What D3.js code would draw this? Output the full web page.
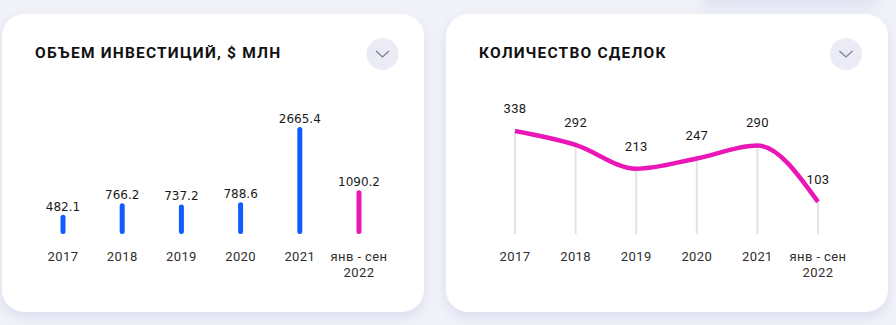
<!DOCTYPE html>
<html>
<head>
<meta charset="utf-8">
<script src="https://cdn.jsdelivr.net/npm/d3@7/dist/d3.min.js"></script>
<style>
  html, body { margin: 0; padding: 0; background: #f2f3f8; }
  svg { display: block; }
</style>
</head>
<body>
<svg id="chart" width="896" height="325"></svg>
<script>
// Investment volume, $ mln
const investCategories = ["2017", "2018", "2019", "2020", "2021", "янв - сен|2022"];
const investValues = [482.1, 766.2, 737.2, 788.6, 2665.4, 1090.2];
// Number of deals
const dealCategories = ["2017", "2018", "2019", "2020", "2021", "янв - сен|2022"];
const dealValues = [338, 292, 213, 247, 290, 103];

const titles = ["ОБЪЕМ ИНВЕСТИЦИЙ, $ МЛН", "КОЛИЧЕСТВО СДЕЛОК"];

const BLUE = "#0f5cff";
const PINK = "#ea17b6";

const svg = d3.select("#chart");
const defs = svg.append("defs");

const shadow = defs.append("filter").attr("id", "cardShadow")
  .attr("x", "-10%").attr("y", "-10%").attr("width", "120%").attr("height", "125%");
shadow.append("feDropShadow").attr("dx", 0).attr("dy", 5).attr("stdDeviation", 7)
  .attr("flood-color", "#cfd2ec").attr("flood-opacity", 0.75);

const haze = defs.append("filter").attr("id", "haze")
  .attr("x", "-30%").attr("y", "-200%").attr("width", "160%").attr("height", "500%");
haze.append("feGaussianBlur").attr("stdDeviation", 6);

// soft panel glow at the top edge
svg.append("rect").attr("x", 700).attr("y", -20).attr("width", 180).attr("height", 30)
  .attr("rx", 14).attr("fill", "#e2e4f3").attr("filter", "url(#haze)");

const cards = [
  { x: 2, y: 14, w: 422, h: 298, btnX: 382.5 },
  { x: 446, y: 14, w: 442, h: 298, btnX: 846 }
];

cards.forEach((c, i) => {
  svg.append("rect").attr("x", c.x).attr("y", c.y).attr("width", c.w).attr("height", c.h)
    .attr("rx", 22).attr("fill", "#ffffff").attr("filter", "url(#cardShadow)");
  svg.append("text").attr("x", c.x + 33).attr("y", 58)
    .attr("font-family", "Roboto, sans-serif").attr("font-weight", 700)
    .attr("font-size", 15.5).attr("letter-spacing", 1.2).attr("fill", "#111111")
    .text(titles[i]);
  svg.append("circle").attr("cx", c.btnX).attr("cy", 54).attr("r", 16).attr("fill", "#ebebf5");
  svg.append("path")
    .attr("d", `M${c.btnX - 6.5},${51} L${c.btnX},${57} L${c.btnX + 6.5},${51}`)
    .attr("fill", "none").attr("stroke", "#7c7d8e").attr("stroke-width", 1.2);
});

function drawCategoryLabels(g, cats, x) {
  cats.forEach(cat => {
    const lines = cat.split("|");
    const t = g.append("text").attr("text-anchor", "middle")
      .attr("font-family", "Roboto, sans-serif").attr("font-size", 13)
      .attr("letter-spacing", 0.4).attr("fill", "#2e2e2e");
    lines.forEach((ln, k) => {
      t.append("tspan").attr("x", x(cat)).attr("y", 261 + k * 16).text(ln);
    });
  });
}

// ---- Bars: investment volume ----
const xBar = d3.scalePoint().domain(investCategories).range([63, 359]);
const yBar = d3.scaleLinear().domain([0, d3.max(investValues)]).range([234, 127]);
const gBar = svg.append("g");
const barW = 5;

gBar.selectAll("rect.bar").data(investValues).join("rect")
  .attr("class", "bar")
  .attr("x", (d, i) => xBar(investCategories[i]) - barW / 2)
  .attr("y", d => yBar(d))
  .attr("width", barW)
  .attr("height", d => yBar(0) - yBar(d))
  .attr("rx", barW / 2)
  .attr("fill", (d, i) => i === investValues.length - 1 ? PINK : BLUE);

gBar.selectAll("text.val").data(investValues).join("text")
  .attr("class", "val")
  .attr("x", (d, i) => xBar(investCategories[i]))
  .attr("y", d => yBar(d) - 4)
  .attr("text-anchor", "middle")
  .attr("font-family", "'DejaVu Sans', sans-serif").attr("font-size", 12)
  .attr("fill", "#1a1a1a")
  .text(d => d.toFixed(1));

drawCategoryLabels(gBar, investCategories, xBar);

// ---- Line: number of deals ----
const xLine = d3.scalePoint().domain(dealCategories).range([515, 818]);
const yLine = d3.scaleLinear().domain([0, d3.max(dealValues)]).range([233, 131]);
const gLine = svg.append("g");

gLine.selectAll("line.grid").data(dealValues).join("line")
  .attr("class", "grid")
  .attr("x1", (d, i) => xLine(dealCategories[i]))
  .attr("x2", (d, i) => xLine(dealCategories[i]))
  .attr("y1", d => yLine(d))
  .attr("y2", 234)
  .attr("stroke", "#e3e3e6").attr("stroke-width", 2);

const line = d3.line()
  .x((d, i) => xLine(dealCategories[i]))
  .y(d => yLine(d))
  .curve(d3.curveMonotoneX);

gLine.append("path").datum(dealValues)
  .attr("d", line)
  .attr("fill", "none").attr("stroke", PINK).attr("stroke-width", 4.5)
  .attr("stroke-linejoin", "round");

gLine.selectAll("text.val").data(dealValues).join("text")
  .attr("class", "val")
  .attr("x", (d, i) => xLine(dealCategories[i]))
  .attr("y", d => yLine(d) - 18)
  .attr("text-anchor", "middle")
  .attr("font-family", "Roboto, sans-serif").attr("font-weight", 400).attr("font-size", 13)
  .attr("letter-spacing", 0.3)
  .attr("fill", "#1a1a1a")
  .text(d => d);

drawCategoryLabels(gLine, dealCategories, xLine);
</script>
</body>
</html>
